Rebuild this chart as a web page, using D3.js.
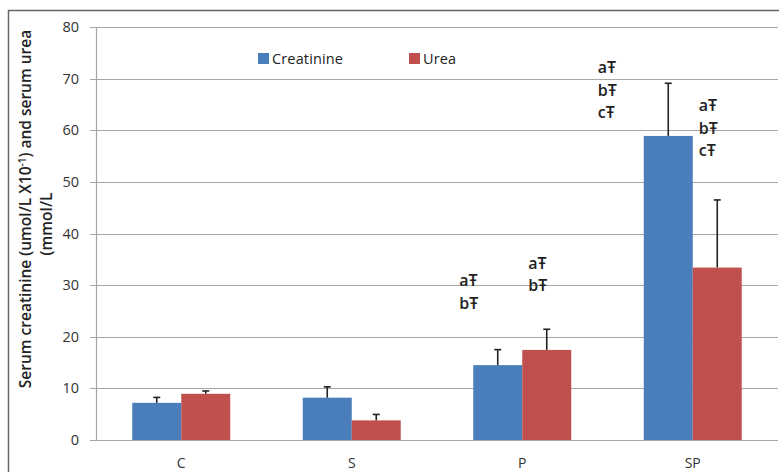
<!DOCTYPE html>
<html>
<head>
<meta charset="utf-8">
<script src="https://cdn.jsdelivr.net/npm/d3@7"></script>
<style>
  body { margin: 0; background: #fff; }
  svg { display: block; font-family: "Open Sans", Lato, sans-serif; }
</style>
</head>
<body>
<div id="chart"></div>
<script>
// Groups and series
const groups = ["C", "S", "P", "SP"];
const series = ["Creatinine", "Urea"];
const colors = ["#4a7ebb", "#c0504d"];

// Mean values per group (Creatinine, Urea)
const creatinine = [7.2, 8.2, 14.5, 58.9];
const urea = [8.95, 3.8, 17.45, 33.4];

// Error bar (upper) values
const creatinineErr = [1.05, 2.1, 3.0, 10.2];
const ureaErr = [0.55, 1.15, 4.0, 13.1];

// Significance labels per bar
const creatinineSig = [[], [], ["aŦ", "bŦ"], ["aŦ", "bŦ", "cŦ"]];
const ureaSig = [[], [], ["aŦ", "bŦ"], ["aŦ", "bŦ", "cŦ"]];
// where the first label sits (value units)
const creatinineSigTop = [0, 0, 30.9, 72.1];
const ureaSigTop = [0, 0, 34.3, 64.8];

const yTicks = [0, 10, 20, 30, 40, 50, 60, 70, 80];

const W = 779, H = 472;
const margin = { top: 27, right: 1, bottom: 32, left: 96 };
// label nudges from bar centre, px
const creatinineSigDx = [0, 0, -38.5, -70.5];
const ureaSigDx = [0, 0, -18.5, -18.5];

const svg = d3.select("#chart").append("svg")
    .attr("width", W)
    .attr("height", H);

// outer frame
svg.append("rect")
    .attr("x", 8.5).attr("y", 10.5)
    .attr("width", W + 10).attr("height", H + 10)
    .attr("fill", "none")
    .attr("stroke", "#666")
    .attr("stroke-width", 1.5);

const x = d3.scaleBand()
    .domain(groups)
    .range([margin.left, W - margin.right]);

const xInner = d3.scaleBand()
    .domain(series)
    .range([-49, 49]);

const y = d3.scaleLinear()
    .domain([0, 80])
    .range([H - margin.bottom, margin.top]);

// gridlines
svg.append("g")
    .selectAll("line")
    .data(yTicks)
    .join("line")
    .attr("x1", margin.left - 6)
    .attr("x2", W - margin.right)
    .attr("y1", d => Math.round(y(d)) + 0.5)
    .attr("y2", d => Math.round(y(d)) + 0.5)
    .attr("stroke", "#a6a6a6")
    .attr("stroke-width", 1.2);

// y axis line
svg.append("line")
    .attr("x1", margin.left + 0.5).attr("x2", margin.left + 0.5)
    .attr("y1", y(80)).attr("y2", y(0))
    .attr("stroke", "#a6a6a6")
    .attr("stroke-width", 1.2);

// y tick labels
svg.append("g")
    .selectAll("text")
    .data(yTicks)
    .join("text")
    .attr("x", margin.left - 17)
    .attr("y", d => y(d))
    .attr("dy", "0.35em")
    .attr("text-anchor", "end")
    .attr("font-size", 14.5)
    .attr("fill", "#333")
    .text(d => d);

// x labels
svg.append("g")
    .selectAll("text")
    .data(groups)
    .join("text")
    .attr("x", d => x(d) + x.bandwidth() / 2)
    .attr("y", H - margin.bottom + 23)
    .attr("dy", "0.35em")
    .attr("text-anchor", "middle")
    .attr("font-size", 14)
    .attr("fill", "#333")
    .text(d => d);

// build rows for bars
const rows = [];
groups.forEach((g, i) => {
    rows.push({ g, s: series[0], v: creatinine[i], e: creatinineErr[i], sig: creatinineSig[i], top: creatinineSigTop[i], dx: creatinineSigDx[i], c: colors[0] });
    rows.push({ g, s: series[1], v: urea[i], e: ureaErr[i], sig: ureaSig[i], top: ureaSigTop[i], dx: ureaSigDx[i], c: colors[1] });
});
const cx = d => x(d.g) + x.bandwidth() / 2 + xInner(d.s);

svg.append("g")
    .selectAll("rect")
    .data(rows)
    .join("rect")
    .attr("x", d => cx(d))
    .attr("width", xInner.bandwidth())
    .attr("y", d => y(d.v))
    .attr("height", d => y(0) - y(d.v))
    .attr("fill", d => d.c);

// error bars
const err = svg.append("g")
    .attr("stroke", "#222")
    .attr("stroke-width", 1.6);

err.selectAll(".stem")
    .data(rows)
    .join("line")
    .attr("x1", d => cx(d) + xInner.bandwidth() / 2)
    .attr("x2", d => cx(d) + xInner.bandwidth() / 2)
    .attr("y1", d => y(d.v))
    .attr("y2", d => y(d.v + d.e));

err.selectAll(".cap")
    .data(rows)
    .join("line")
    .attr("x1", d => cx(d) + xInner.bandwidth() / 2 - 3.5)
    .attr("x2", d => cx(d) + xInner.bandwidth() / 2 + 3.5)
    .attr("y1", d => y(d.v + d.e))
    .attr("y2", d => y(d.v + d.e));

// significance labels
rows.filter(d => d.sig.length).forEach(d => {
    svg.append("g").selectAll("text")
        .data(d.sig)
        .join("text")
        .attr("x", cx(d) + xInner.bandwidth() / 2 + d.dx)
        .attr("y", (t, k) => y(d.top) + k * 22.5)
        .attr("dy", "0.35em")
        .attr("text-anchor", "start")
        .attr("font-size", 16)
        .attr("font-weight", 600)
        .attr("fill", "#222")
        .text(t => t);
});

// legend
const legend = svg.append("g");
const legendX = [258, 409];
series.forEach((s, i) => {
    legend.append("rect")
        .attr("x", legendX[i]).attr("y", 53)
        .attr("width", 11).attr("height", 11)
        .attr("fill", colors[i]);
    legend.append("text")
        .attr("x", legendX[i] + 14).attr("y", 58.5)
        .attr("dy", "0.35em")
        .attr("font-size", 14.5)
        .attr("fill", "#222")
        .attr("textLength", i === 0 ? 71 : 33)
        .text(s);
});

// y axis title
const title = svg.append("g")
    .attr("font-size", 15.5)
    .attr("font-weight", 600)
    .attr("fill", "#222")
    .attr("text-anchor", "middle");

const t1 = title.append("text")
    .attr("transform", "translate(26,209) rotate(-90)")
    .attr("dy", "0.35em");
t1.append("tspan").text("Serum creatinine (umol/L X10");
t1.append("tspan").attr("font-size", 10).attr("dy", "-5").text("-1");
t1.append("tspan").attr("dy", "5").text(") and serum urea");

title.append("text")
    .attr("transform", "translate(47,224) rotate(-90)")
    .attr("dy", "0.35em")
    .text("(mmol/L");
</script>
</body>
</html>
